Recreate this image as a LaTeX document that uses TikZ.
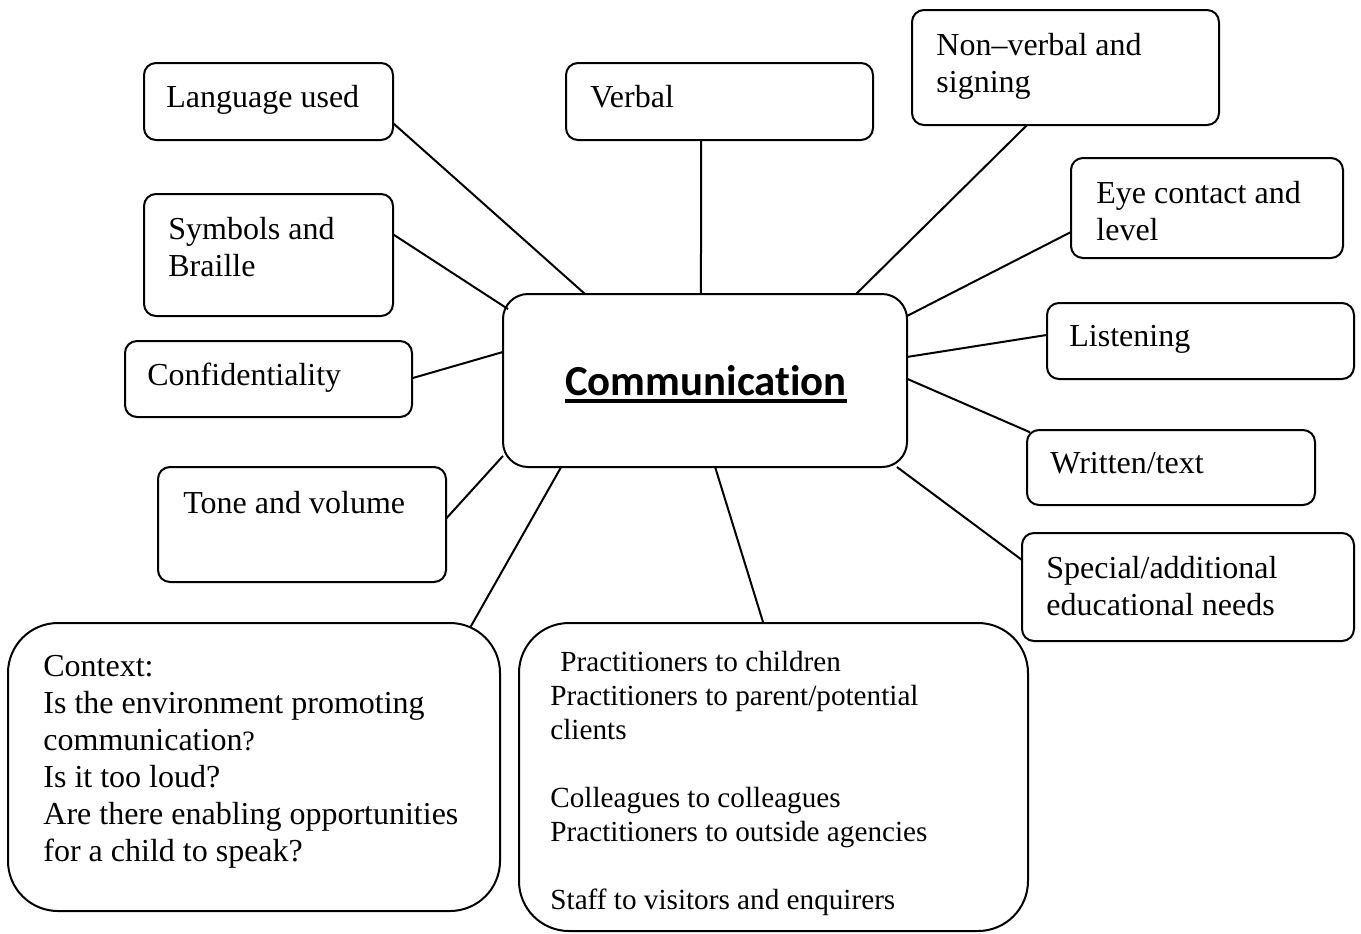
\documentclass[tikz,border=0pt]{standalone}
\usepackage{fontspec}
\setmainfont{Liberation Serif}
\newfontfamily\carlito[Ligatures=NoCommon]{Carlito}
\usetikzlibrary{calc}
\newcommand\mylines[1]{\vtop{#1}}
\begin{document}
\begin{tikzpicture}[x=0.5pt,y=-0.5pt,
  box/.style={draw,line width=1pt,rounded corners=6pt,inner sep=0pt,outer sep=0pt},
  bigbox/.style={box,rounded corners=25pt},
  txt/.style={anchor=base west,inner sep=0pt,font=\fontsize{16}{18.5}\selectfont},
  smalltxt/.style={anchor=base west,inner sep=0pt,font=\fontsize{14.6}{17}\selectfont},
  link/.style={line width=1pt}]
\useasboundingbox (0,0) rectangle (1361,933);
% boxes
\node[box,minimum width=124.5pt,minimum height=38.5pt] (lang) at (268.5,101.5) {};
\node[box,minimum width=153.5pt,minimum height=38.5pt] (verbal) at (719.5,101.5) {};
\node[box,minimum width=153.5pt,minimum height=57.5pt] (nonverbal) at (1065.5,67.5) {};
\node[box,minimum width=136pt,minimum height=50pt] (eye) at (1207,208) {};
\node[box,minimum width=124.5pt,minimum height=61pt] (symbols) at (268.5,255) {};
\node[box,minimum width=153.5pt,minimum height=38pt] (listen) at (1200.5,341) {};
\node[box,minimum width=143.5pt,minimum height=38pt] (conf) at (268.5,379) {};
\node[box,rounded corners=12.5pt,minimum width=202pt,minimum height=86.5pt] (comm) at (705,380.5) {};
\node[box,minimum width=144pt,minimum height=37.5pt] (written) at (1171,467.5) {};
\node[box,minimum width=144pt,minimum height=57.5pt] (tone) at (302,524.5) {};
\node[box,minimum width=166pt,minimum height=54pt] (special) at (1188,587) {};
\node[bigbox,minimum width=246pt,minimum height=144pt] (context) at (254,767) {};
\node[bigbox,minimum width=254.5pt,minimum height=154pt] (pract) at (773.5,777) {};
% texts
\node[txt] (tlang) at (166,107) {Language used};
\node[txt] (tverbal) at (590,107) {Verbal};
\node[txt] (tnonverbal) at (936,55) {\mylines{\hbox{Non–verbal and}\hbox{signing}}};
\node[txt] (teye) at (1096,203) {\mylines{\hbox{Eye contact and}\hbox{level}}};
\node[txt] (tsymbols) at (168,239) {\mylines{\hbox{Symbols and}\hbox{Braille}}};
\node[txt] (tlisten) at (1069,346) {Listening};
\node[txt] (tconf) at (147,385) {Confidentiality};
\node[txt] (twritten) at (1050,473) {Written/text};
\node[txt] (ttone) at (183,513) {Tone and volume};
\node[txt] (tspecial) at (1046,578) {\mylines{\hbox{Special/additional}\hbox{educational needs}}};
\node[txt] (tcontext) at (43,676) {\mylines{\hbox{Context:}\hbox{Is the environment promoting}\hbox{communication{\fontsize{14}{18.5}\selectfont ?}}\hbox{Is it too loud?}\hbox{Are there enabling opportunities}\hbox{for a child to speak?}}};
\node[smalltxt] (tpract) at (550,671) {\mylines{\hbox{\hspace{5pt}Practitioners to children}\hbox{Practitioners to parent/potential}\hbox{clients}\hbox{}\hbox{Colleagues to colleagues}\hbox{Practitioners to outside agencies}\hbox{}\hbox{Staff to visitors and enquirers}}};
\node[anchor=base,inner sep=0pt,font=\carlito\bfseries\fontsize{21.4}{24}\selectfont] (tcomm) at (706,395) {Communication};
\draw[line width=1.8pt] ($(tcomm.base west)+(0,6)$) -- ($(tcomm.base east)+(0,6)$);
% connectors
\draw[link] ($(lang.north east)!0.78!(lang.south east)$) -- ($(comm.north west)!0.203!(comm.north east)$);
\draw[link] ($(verbal.south west)!0.44!(verbal.south east)$) -- ($(comm.north west)!0.49!(comm.north east)$);
\draw[link] ($(nonverbal.south west)!0.375!(nonverbal.south east)$) -- ($(comm.north west)!0.874!(comm.north east)$);
\draw[link] ($(eye.north west)!0.74!(eye.south west)$) -- ($(comm.north east)!0.127!(comm.south east)$);
\draw[link] ($(symbols.north east)!0.33!(symbols.south east)$) -- ($(comm.north west)!0.087!(comm.south west)+(5,0)$);
\draw[link] ($(conf.north east)!0.49!(conf.south east)$) -- ($(comm.north west)!0.335!(comm.south west)$);
\draw[link] ($(listen.north west)!0.42!(listen.south west)$) -- ($(comm.north east)!0.364!(comm.south east)$);
\draw[link] ($(written.north west)!0.03!(written.south west)+(3,0)$) -- ($(comm.north east)!0.49!(comm.south east)$);
\draw[link] ($(tone.north east)!0.45!(tone.south east)$) -- ($(comm.north west)!0.936!(comm.south west)$);
\draw[link] ($(special.north west)!0.25!(special.south west)$) -- ($(comm.south west)!0.975!(comm.south east)$);
\draw[link] ($(context.north west)!0.94!(context.north east)+(0,4)$) -- ($(comm.south west)!0.144!(comm.south east)$);
\draw[link] ($(pract.north west)!0.48!(pract.north east)$) -- ($(comm.south west)!0.525!(comm.south east)$);
\end{tikzpicture}
\end{document}
